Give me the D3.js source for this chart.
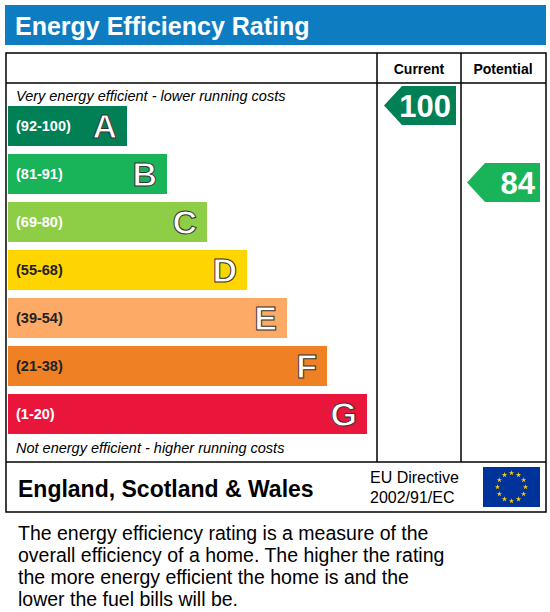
<!DOCTYPE html>
<html><head><meta charset="utf-8">
<script src="https://cdn.jsdelivr.net/npm/d3@7"></script>
<style>body{margin:0;background:#fff}</style></head>
<body><svg id="c" width="550" height="612"></svg>
<script>
const bandLabels = ["(92-100)","(81-91)","(69-80)","(55-68)","(39-54)","(21-38)","(1-20)"];
const bandLetters = ["A","B","C","D","E","F","G"];
const bandMax = [100,91,80,68,54,38,20];
const bandColors = ["#008054","#19b459","#8dce46","#ffd500","#fcaa65","#ef8023","#e9153b"];
const currentRating = 100;
const potentialRating = 84;
const footerLines = ["The energy efficiency rating is a measure of the","overall efficiency of a home. The higher the rating","the more energy efficient the home is and the","lower the fuel bills will be."];

const svg = d3.select("#c");
const F = "Liberation Sans, Arial, sans-serif";
svg.append("rect").attr("x",5).attr("y",5).attr("width",541).attr("height",40).attr("fill","#0e7cc1");
svg.append("text").attr("x",15).attr("y",35).text("Energy Efficiency Rating").attr("fill","#fff").attr("font-family",F).attr("font-weight","bold").attr("font-size",25);
const g = svg.append("g").attr("fill","none").attr("stroke","#000").attr("stroke-width",1.5);
g.append("rect").attr("x",6).attr("y",53).attr("width",540).attr("height",459);
g.append("line").attr("x1",6).attr("x2",546).attr("y1",83).attr("y2",83);
g.append("line").attr("x1",6).attr("x2",546).attr("y1",462).attr("y2",462);
g.append("line").attr("x1",377).attr("x2",377).attr("y1",53).attr("y2",462);
g.append("line").attr("x1",461).attr("x2",461).attr("y1",53).attr("y2",462);
svg.append("text").attr("x",419).attr("y",74).attr("text-anchor","middle").text("Current").attr("font-family",F).attr("font-weight","bold").attr("font-size",14);
svg.append("text").attr("x",503).attr("y",74).attr("text-anchor","middle").text("Potential").attr("font-family",F).attr("font-weight","bold").attr("font-size",14);
svg.append("text").attr("x",16).attr("y",101).text("Very energy efficient - lower running costs").attr("font-family",F).attr("font-style","italic").attr("font-size",14.5);
svg.append("text").attr("x",16).attr("y",453).text("Not energy efficient - higher running costs").attr("font-family",F).attr("font-style","italic").attr("font-size",14.5);

const y = d3.scaleBand().domain(bandLetters).range([106,434]).paddingInner(1/6).paddingOuter(0);
const bands = svg.selectAll("g.band").data(bandLetters).join("g");
bands.append("rect").attr("x",8).attr("y",d=>y(d)).attr("height",y.bandwidth())
  .attr("width",(d,i)=>119+40*i).attr("fill",(d,i)=>bandColors[i]);
bands.append("text").attr("x",16).attr("y",d=>y(d)+y.bandwidth()/2+5).text((d,i)=>bandLabels[i])
  .attr("fill",(d,i)=>i>=3&&i<=5?"#222":"#fff").attr("font-family",F).attr("font-weight","bold").attr("font-size",14.5);
bands.append("text").attr("x",(d,i)=>8+119+40*i-10).attr("y",d=>y(d)+y.bandwidth()/2+12).attr("text-anchor","end").text(d=>d)
  .attr("fill","#fff").attr("stroke","#333").attr("stroke-width",1).attr("font-family",F).attr("font-weight","bold").attr("font-size",34);

function band(v){return bandMax.findIndex((m,i)=>i==6||v>bandMax[i+1]);}
function arrow(x0,x1,v){
  const i=band(v), top=i===0?86:y(bandLetters[i])+9, h=39;
  const p=`M${x0},${top+h/2} L${x0+18},${top} L${x1},${top} L${x1},${top+h} L${x0+18},${top+h} Z`;
  svg.append("path").attr("d",p).attr("fill",bandColors[i]);
  svg.append("text").attr("x",x1-5).attr("y",top+h/2+11).attr("text-anchor","end").text(v)
   .attr("fill","#fff").attr("font-family",F).attr("font-weight","bold").attr("font-size",31);
}
arrow(384,456,currentRating);
arrow(467,540,potentialRating);

svg.append("text").attr("x",18).attr("y",497).text("England, Scotland & Wales").attr("font-family",F).attr("font-weight","bold").attr("font-size",23);
svg.append("text").attr("x",370).attr("y",483).text("EU Directive").attr("font-family",F).attr("font-size",16);
svg.append("text").attr("x",370).attr("y",503).text("2002/91/EC").attr("font-family",F).attr("font-size",16);
svg.append("rect").attr("x",483).attr("y",467).attr("width",57).attr("height",40).attr("fill","#003399");
const star=d3.symbol().type(d3.symbolStar).size(9);
d3.range(12).forEach(k=>{const a=k*Math.PI/6;svg.append("path").attr("d",star())
  .attr("transform",`translate(${511.5+14*Math.cos(a)},${487+14*Math.sin(a)})`).attr("fill","#ffcc00");});
svg.selectAll("text.f").data(footerLines).join("text").attr("x",18).attr("y",(d,i)=>540+i*22).text(d=>d).attr("font-family",F).attr("font-size",19.5);
</script></body></html>
